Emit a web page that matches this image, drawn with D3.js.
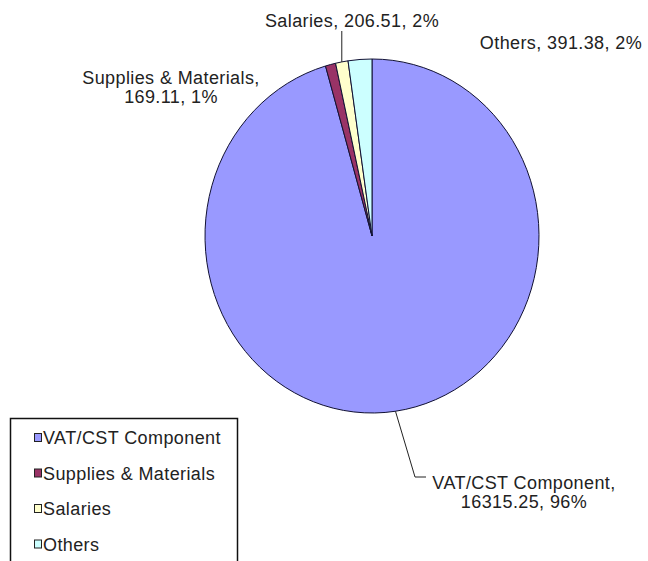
<!DOCTYPE html>
<html>
<head>
<meta charset="utf-8">
<script src="https://cdn.jsdelivr.net/npm/d3@7"></script>
<style>
  body { margin: 0; background: #fff; }
  text { font-family: "Liberation Sans", Arial, sans-serif; fill: #222; letter-spacing: 0.4px; }
</style>
</head>
<body>
<div id="container"></div>
<script>
/* CONSTANTS AND GLOBALS */
const width = 648;
const height = 561;

const categories = ["VAT/CST Component", "Supplies & Materials", "Salaries", "Others"];
const values = [16315.25, 169.11, 206.51, 391.38];
const percents = ["96%", "1%", "2%", "2%"];
const colors = ["#9999ff", "#993366", "#ffffcc", "#ccffff"];

const data = categories.map((c, i) => ({ name: c, value: values[i], pct: percents[i] }));

const cx = 372, cy = 236, rx = 167, ry = 177;

const colorScale = d3.scaleOrdinal().domain(categories).range(colors);

const svg = d3.select("#container")
  .append("svg")
  .attr("width", width)
  .attr("height", height);

/* PIE */
const pie = d3.pie().value(d => d.value).sort(null);
const arcs = pie(data);
const arc = d3.arc().innerRadius(0).outerRadius(rx);

const g = svg.append("g")
  .attr("transform", `translate(${cx},${cy}) scale(1,${ry / rx})`);

g.selectAll("path")
  .data(arcs)
  .join("path")
  .attr("d", arc)
  .attr("fill", d => colorScale(d.data.name))
  .attr("stroke", "#111133")
  .attr("stroke-width", 1)
  .attr("vector-effect", "non-scaling-stroke");

// point on the rim at the middle of a slice
const rim = d => {
  const a = (d.startAngle + d.endAngle) / 2;
  return [cx + rx * Math.sin(a), cy - ry * Math.cos(a)];
};

/* LABELS */
const fs = 18;
const labels = [
  { i: 0, x: 524, y: 489, lines: ["VAT/CST Component,", "16315.25, 96%"] },
  { i: 1, x: 171, y: 84, lines: ["Supplies & Materials,", "169.11, 1%"] },
  { i: 2, x: 352, y: 27, lines: ["Salaries, 206.51, 2%"] },
  { i: 3, x: 561, y: 49, lines: ["Others, 391.38, 2%"] }
];

labels.forEach(l => {
  const t = svg.append("text")
    .attr("text-anchor", "middle")
    .style("font-size", fs + "px");
  l.lines.forEach((s, k) => {
    t.append("tspan")
      .attr("x", l.x)
      .attr("y", l.y + k * 19)
      .text(s);
  });
});

// leader lines
const pVat = rim(arcs[0]);
svg.append("polyline")
  .attr("points", [pVat, [415, 477], [426, 477]].map(p => p.join(",")).join(" "))
  .attr("fill", "none")
  .attr("stroke", "#222")
  .attr("stroke-width", 1);

const pSal = rim(arcs[2]);
svg.append("line")
  .attr("x1", pSal[0]).attr("y1", pSal[1])
  .attr("x2", pSal[0]).attr("y2", 31)
  .attr("stroke", "#222")
  .attr("stroke-width", 1);

/* LEGEND */
svg.append("rect")
  .attr("x", 10.5).attr("y", 418.5)
  .attr("width", 227).attr("height", 200)
  .attr("fill", "#fff")
  .attr("stroke", "#111")
  .attr("stroke-width", 1.5);

const leg = svg.selectAll("g.leg")
  .data(categories)
  .join("g")
  .attr("class", "leg")
  .attr("transform", (d, i) => `translate(34,${444 + i * 35.5})`);

leg.append("rect")
  .attr("x", 0.5).attr("y", -10.5)
  .attr("width", 7).attr("height", 8)
  .attr("fill", d => colorScale(d))
  .attr("stroke", "#222");

leg.append("text")
  .attr("x", 9)
  .attr("y", 0)
  .style("font-size", fs + "px")
  .text(d => d);
</script>
</body>
</html>
